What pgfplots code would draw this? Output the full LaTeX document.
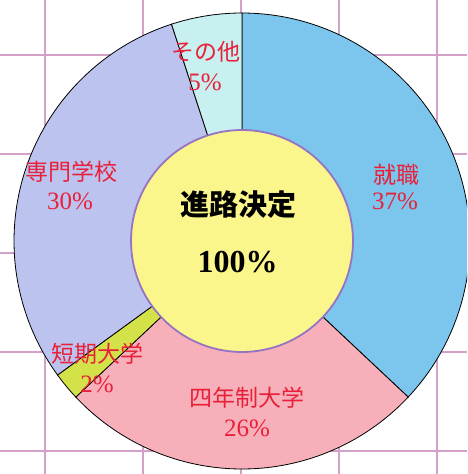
\documentclass[border=0pt]{standalone}
\usepackage{pgfplots}
\pgfplotsset{compat=1.18}
\usepgfplotslibrary{polar}
\usepackage{fontspec}
\setmainfont{Liberation Serif}
\newfontfamily\cjk{Noto Sans CJK JP}
\definecolor{gridc}{RGB}{210,160,200}
\definecolor{cA}{RGB}{124,198,238}
\definecolor{cB}{RGB}{247,176,186}
\definecolor{cC}{RGB}{212,226,74}
\definecolor{cD}{RGB}{188,195,238}
\definecolor{cE}{RGB}{200,240,240}
\definecolor{cY}{RGB}{251,246,140}
\definecolor{cP}{RGB}{150,115,195}
\definecolor{lbl}{RGB}{232,32,58}
% percentages
\def\vA{37}% 就職
\def\vB{26}% 四年制大学
\def\vC{2}%  短期大学
\def\vD{30}% 専門学校
\def\vE{5}%  その他
\begin{document}
\begin{tikzpicture}[x=1pt,y=1pt]
\useasboundingbox (0,0) rectangle (467,474);
\clip (0,0) rectangle (467,474);
\fill[white] (0,0) rectangle (467,474);
\foreach \x in {45,143,241,339,437} \draw[gridc, line width=2.5pt] (\x,0) -- (\x,474);
\foreach \y in {55,154,253,352,451} \draw[gridc, line width=2.5pt] (0,474-\y) -- (467,474-\y);
\begin{polaraxis}[at={(242pt,233pt)}, anchor=center, scale only axis,
  width=456pt, height=456pt, hide axis, xmin=0, xmax=360, ymin=0, ymax=228, clip=false]
\addplot[draw=black, line width=0.8pt, fill=cA, domain={90}:{90-3.6*\vA}, samples=90] {228} -- (axis cs:0,0) -- cycle;
\addplot[draw=black, line width=0.8pt, fill=cB, domain={90-3.6*\vA}:{90-3.6*(\vA+\vB)}, samples=70] {228} -- (axis cs:0,0) -- cycle;
\addplot[draw=black, line width=0.8pt, fill=cC, domain={90-3.6*(\vA+\vB)}:{90-3.6*(\vA+\vB+\vC)}, samples=10] {228} -- (axis cs:0,0) -- cycle;
\addplot[draw=black, line width=0.8pt, fill=cD, domain={90-3.6*(\vA+\vB+\vC)}:{90-3.6*(\vA+\vB+\vC+\vD)}, samples=80] {228} -- (axis cs:0,0) -- cycle;
\addplot[draw=black, line width=0.8pt, fill=cE, domain={90-3.6*(\vA+\vB+\vC+\vD)}:{90-3.6*(\vA+\vB+\vC+\vD+\vE)}, samples=20] {228} -- (axis cs:0,0) -- cycle;
\addplot[draw=cP, line width=1.8pt, fill=cY, domain=0:360, samples=150] {111} -- cycle;
\end{polaraxis}
\begin{scope}[every node/.style={text=lbl, inner sep=0pt}]
\node[font=\fontsize{23}{23}\selectfont] at (206,474-52) {\cjk その他};
\node[font=\fontsize{25}{25}\selectfont] at (205,474-82) {\vE\%};
\node[font=\fontsize{23}{23}\selectfont] at (396,474-175) {\cjk 就職};
\node[font=\fontsize{25}{25}\selectfont] at (395,474-201) {\vA\%};
\node[font=\fontsize{23}{23}\selectfont] at (71,474-172) {\cjk 専門学校};
\node[font=\fontsize{25}{25}\selectfont] at (70,474-201) {\vD\%};
\node[font=\fontsize{23}{23}\selectfont] at (97,474-354) {\cjk 短期大学};
\node[font=\fontsize{25}{25}\selectfont] at (97,474-384) {\vC\%};
\node[font=\fontsize{23}{23}\selectfont] at (247,474-398) {\cjk 四年制大学};
\node[font=\fontsize{25}{25}\selectfont] at (247,474-428) {\vB\%};
\end{scope}
\begin{scope}[every node/.style={inner sep=0pt}]
\node[text=black, font=\fontsize{29}{29}\selectfont\bfseries] at (238,474-205) {\cjk 進路決定};
\node[text=black, font=\fontsize{32}{32}\selectfont\bfseries] at (237.5,474-262) {100\%};
\end{scope}
\end{tikzpicture}
\end{document}
